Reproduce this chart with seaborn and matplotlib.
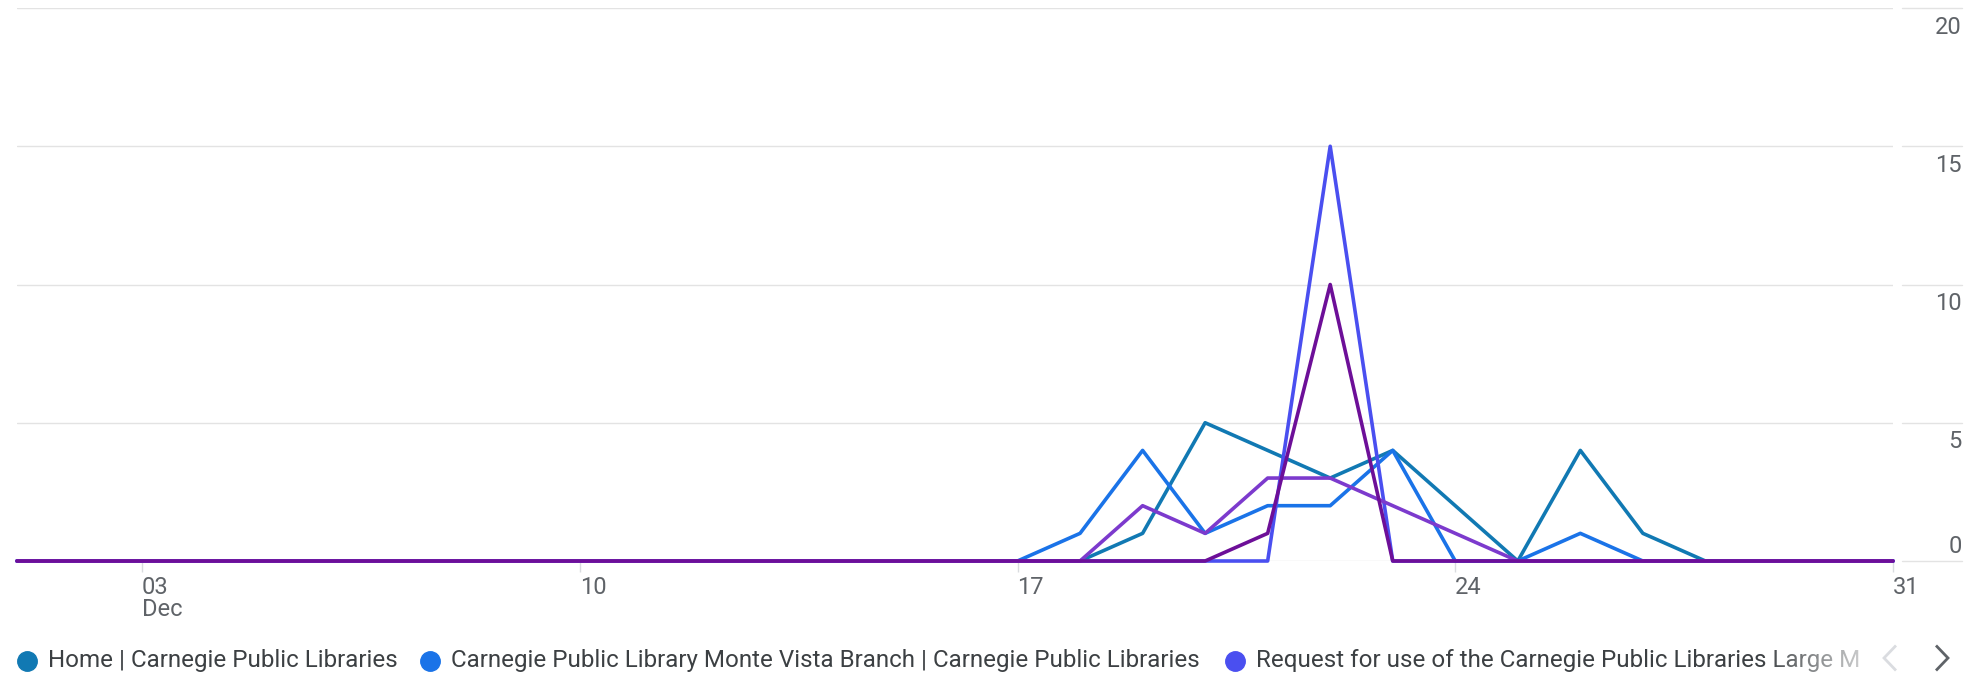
import numpy as np
import pandas as pd
import matplotlib
matplotlib.use("Agg")
import matplotlib.pyplot as plt
import matplotlib.transforms as mtransforms
from matplotlib.lines import Line2D
import seaborn as sns

# Daily views, 1-31 December
days = list(range(1, 32))

home = [0] * 18 + [1, 5, 4, 3, 4, 2, 0, 4, 1, 0, 0, 0, 0]
monte_vista = [0] * 17 + [1, 4, 1, 2, 2, 4, 0, 0, 1, 0, 0, 0, 0, 0]
meeting_room = [0] * 21 + [15, 0, 0, 0, 0, 0, 0, 0, 0, 0]
page_4 = [0] * 18 + [2, 1, 3, 3, 2, 1, 0, 0, 0, 0, 0, 0, 0]
page_5 = [0] * 20 + [1, 10, 0, 0, 0, 0, 0, 0, 0, 0, 0]

series_names = [
    "Home | Carnegie Public Libraries",
    "Carnegie Public Library Monte Vista Branch | Carnegie Public Libraries",
    "Request for use of the Carnegie Public Libraries Large M",
    "Page 4",
    "Page 5",
]
series_values = [home, monte_vista, meeting_room, page_4, page_5]
series_colors = ["#1179b3", "#1a73e8", "#4a4ff0", "#7c3acd", "#6d0f98"]

x_ticks = [3, 10, 17, 24, 31]
x_tick_labels = ["03\nDec", "10", "17", "24", "31"]
y_ticks = [0, 5, 10, 15, 20]

legend_count = 3  # entries visible in the legend strip

df = pd.DataFrame(
    [(d, name, v) for name, vals in zip(series_names, series_values)
     for d, v in zip(days, vals)],
    columns=["day", "page", "views"],
)

sns.set_theme(style="white")
plt.rcParams["font.family"] = ["Roboto", "DejaVu Sans"]

W, H = 1970, 681
fig = plt.figure(figsize=(W / 100, H / 100), dpi=100)
ax = fig.add_axes([17 / W, (H - 561) / H, (1893 - 17) / W, (561 - 8) / H])

grid_color = "#e3e3e3"
for yv in y_ticks:
    ax.axhline(yv, color=grid_color, lw=1.0, zorder=0)

sns.lineplot(
    data=df, x="day", y="views", hue="page",
    hue_order=series_names, palette=series_colors,
    linewidth=2.6, legend=False, ax=ax, zorder=3, clip_on=False,
)

ax.set_xlim(days[0], days[-1])
ax.set_ylim(0, 20)
for s in ax.spines.values():
    s.set_visible(False)
ax.set_xlabel("")
ax.set_ylabel("")
ax.set_yticks([])

ax.set_xticks(x_ticks)
ax.set_xticklabels(x_tick_labels, ha="left", color="#5f6368",
                   fontsize=17, linespacing=0.95)
ax.tick_params(axis="x", length=8, width=1, color="#dadce0", pad=3,
               bottom=True)

# Value labels on the right, with their own short grid stubs
blend = mtransforms.blended_transform_factory(fig.transFigure, ax.transData)
for yv in y_ticks:
    ax.plot([1902 / W, 1962 / W], [yv, yv], color=grid_color, lw=1.0,
            transform=blend, clip_on=False)
    if yv == 0:
        tr = mtransforms.offset_copy(blend, fig=fig, x=0, y=6, units="points")
        va = "baseline"
    else:
        tr = mtransforms.offset_copy(blend, fig=fig, x=0, y=-5.5, units="points")
        va = "top"
    ax.text(1962 / W, yv, str(yv), transform=tr, ha="right", va=va,
            color="#5f6368", fontsize=17)

# Legend strip
leg_y = 1 - 661 / H
dot_x = [27, 430, 1235]
for i in range(legend_count):
    fig.add_artist(Line2D([dot_x[i] / W], [leg_y], marker="o", markersize=14,
                          color=series_colors[i], transform=fig.transFigure,
                          linestyle="none"))
    fig.text((dot_x[i] + 21) / W, leg_y, series_names[i], ha="left",
             va="center", color="#3c4043", fontsize=17.4)

# fade out the clipped end of the strip
fade_ax = fig.add_axes([1762 / W, 1 - 682 / H, (1876 - 1762) / W, 44 / H])
fade_ax.set_zorder(10)
grad = np.zeros((1, 256, 4))
grad[..., :3] = 1.0
grad[..., 3] = np.linspace(0, 0.85, 256)
fade_ax.imshow(grad, aspect="auto", extent=[0, 1, 0, 1])
fade_ax.axis("off")

# scroll chevrons
def chevron(cx, cy, direction, color):
    hw, hh = 6, 12.5
    xs = [cx - direction * hw, cx + direction * hw, cx - direction * hw]
    ys = [cy - hh, cy, cy + hh]
    fig.add_artist(Line2D([x / W for x in xs], [1 - y / H for y in ys],
                          color=color, lw=2.0, transform=fig.transFigure,
                          solid_joinstyle="miter", solid_capstyle="butt"))

chevron(1890, 658, -1, "#dadce0")
chevron(1942, 658, 1, "#5f6368")

fig.savefig("out.png", dpi=100, facecolor="white")
